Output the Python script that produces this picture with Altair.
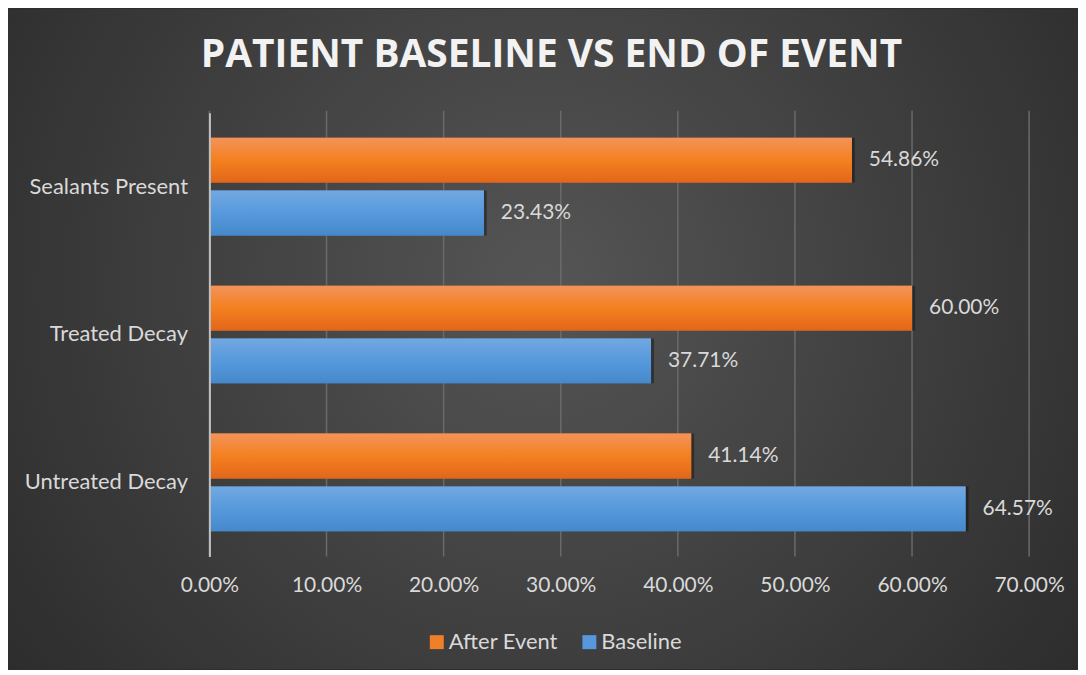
import altair as alt
import pandas as pd

categories = ["Sealants Present", "Treated Decay", "Untreated Decay"]
series = ["After Event", "Baseline"]
after_event = [0.5486, 0.6000, 0.4114]
baseline = [0.2343, 0.3771, 0.6457]
x_ticks = [0.0, 0.1, 0.2, 0.3, 0.4, 0.5, 0.6, 0.7]

rows = []
for c, a, b in zip(categories, after_event, baseline):
    rows.append({"category": c, "series": "After Event", "value": a})
    rows.append({"category": c, "series": "Baseline", "value": b})
df = pd.DataFrame(rows)
ticks_df = pd.DataFrame({"value": x_ticks})

FONT = "Lato"
LABEL = "#D9D9D9"
W, H = 822, 445
PAD_L, PAD_T, PAD_R, PAD_B = 202, 104, 49, 113

orange_grad = {"gradient": "linear", "x1": 0, "y1": 0, "x2": 0, "y2": 1,
               "stops": [{"offset": 0, "color": "#F3935A"},
                         {"offset": 0.5, "color": "#F4801F"},
                         {"offset": 1, "color": "#E2661A"}]}
blue_grad = {"gradient": "linear", "x1": 0, "y1": 0, "x2": 0, "y2": 1,
             "stops": [{"offset": 0, "color": "#72A8E1"},
                       {"offset": 0.5, "color": "#5699DC"},
                       {"offset": 1, "color": "#4689CB"}]}
bg_grad = {"gradient": "radial", "x1": 0.5, "y1": 0.45, "r1": 0,
           "x2": 0.5, "y2": 0.45, "r2": 0.72,
           "stops": [{"offset": 0, "color": "#555555"},
                     {"offset": 1, "color": "#262626"}]}

xscale = alt.Scale(domain=[0, 0.7], nice=False)
xs = alt.X("value:Q", scale=xscale,
           axis=alt.Axis(values=x_ticks, format=".2%", title=None, labelFlush=False,
                         grid=False, ticks=False, domain=False, labelColor=LABEL,
                         labelFontSize=21, labelFont=FONT, labelPadding=18, zindex=1))
ys = alt.Y("category:N", sort=categories,
           scale=alt.Scale(paddingInner=0.34, paddingOuter=0.17),
           axis=alt.Axis(title=None, ticks=False, domain=True,
                         domainColor="#BFBFBF", domainWidth=2,
                         labelColor=LABEL, labelFontSize=22, labelFont=FONT,
                         labelPadding=22, grid=False, zindex=1))
yo = alt.YOffset("series:N", sort=series,
                 scale=alt.Scale(paddingInner=0.151, paddingOuter=0))

base = alt.Chart(df)

bg = base.mark_rect(fill=bg_grad, clip=False).encode(
    x=alt.value(-PAD_L), x2=alt.value(W + PAD_R),
    y=alt.value(-PAD_T), y2=alt.value(H + PAD_B))

grid = alt.Chart(ticks_df).mark_rule(color="#6A6A6A", strokeWidth=1.5).encode(
    x=alt.X("value:Q", scale=xscale), y=alt.value(-2), y2=alt.value(H))

shadow = base.mark_bar(color="#000000", opacity=0.35, xOffset=3, yOffset=3).encode(
    x=xs, y=ys, yOffset=yo)

solid = base.mark_bar().encode(
    x=xs, y=ys, yOffset=yo,
    color=alt.Color("series:N", sort=series,
                    scale=alt.Scale(domain=series, range=["#F07F2A", "#5599DC"]),
                    legend=alt.Legend(title=None, orient="none", direction="horizontal",
                                      legendX=217, legendY=520,
                                      symbolType="square",
                                      symbolSize=196, symbolStrokeWidth=0,
                                      labelColor=LABEL, labelFontSize=22, labelFont=FONT,
                                      columnPadding=20, labelOffset=1, padding=0)))

grad_after = base.transform_filter(alt.datum.series == "After Event").mark_bar(fill=orange_grad).encode(
    x=xs, y=ys, yOffset=yo)
grad_base = base.transform_filter(alt.datum.series == "Baseline").mark_bar(fill=blue_grad).encode(
    x=xs, y=ys, yOffset=yo)

labels = base.mark_text(align="left", baseline="middle", dx=17, color=LABEL,
                        fontSize=21, font=FONT).encode(
    x=xs, y=ys, yOffset=yo, text=alt.Text("value:Q", format=".2%"))

chart = alt.layer(bg, grid, shadow, solid, grad_after, grad_base, labels).properties(
    width=W, height=H,
    title=alt.TitleParams("PATIENT BASELINE VS END OF EVENT", font="Open Sans",
                          fontWeight="bold", fontSize=39, color="#F2F2F2",
                          anchor="middle", frame="group", dx=-68, offset=-66, zindex=1),
    autosize=alt.AutoSizeParams(type="none"),
    padding={"left": PAD_L, "top": PAD_T, "right": PAD_R, "bottom": PAD_B},
    background="#2E2E2E",
).configure_view(stroke=None)

chart.save("out.html", embed_options={"renderer": "svg", "actions": False})
